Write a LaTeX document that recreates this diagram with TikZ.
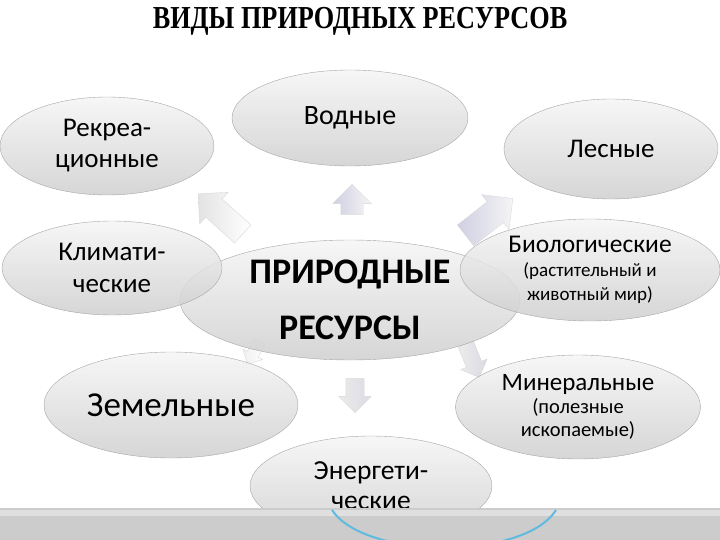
\documentclass[tikz,border=0pt]{standalone}
\usepackage{fontspec}
\setmainfont{Carlito}
\newfontfamily\titlefont{Liberation Serif}
\usetikzlibrary{positioning,shapes.geometric,shapes.arrows}

\begin{document}
\begin{tikzpicture}[x=1pt,y=-1pt,
                    res/.style={ellipse,draw=gray!70,top color=gray!8,bottom color=gray!38,
                      fill opacity=0.85,text opacity=1,align=center,inner sep=0pt},
                    blockarr/.style={single arrow,draw=gray!30,left color=blue!25!gray!30,
                      right color=gray!8,inner xsep=0pt}]
  \useasboundingbox (0,0) rectangle (720,540);

  \node[xscale=0.82,font=\titlefont\bfseries\fontsize{32}{34}\selectfont] (title) at (360,21)
       {ВИДЫ ПРИРОДНЫХ РЕСУРСОВ};

  % arrows from the centre
  \node[blockarr,rotate=90,minimum height=30pt,inner ysep=11pt,single arrow head extend=8pt]
       (aw) at (352,205) {};
  \node[blockarr,rotate=138,minimum height=60pt,inner ysep=12pt,single arrow head extend=9pt,
        left color=gray!22,right color=white]
       (ar) at (225,218) {};
  \node[blockarr,rotate=38,minimum height=60pt,inner ysep=13pt,single arrow head extend=9pt]
       (af) at (484,221) {};
  \node[blockarr,rotate=-68,minimum height=36pt,inner ysep=8pt,single arrow head extend=6pt,
        left color=gray!15,right color=blue!15!gray!25]
       (am) at (471,357) {};
  \node[blockarr,rotate=-90,minimum height=34pt,inner ysep=9pt,single arrow head extend=7pt,
        left color=gray!15,right color=blue!15!gray!25]
       (ae) at (355,391) {};
  \node[blockarr,rotate=-118,minimum height=26pt,inner ysep=6pt,single arrow head extend=5pt,
        left color=gray!12,right color=white]
       (az) at (255,350) {};

  \node[res,minimum width=340pt,minimum height=120pt,font=\bfseries\fontsize{36}{56}\selectfont]
       (main) at (350,300) {ПРИРОДНЫЕ\\РЕСУРСЫ};

  \node[res,minimum width=214pt,minimum height=98pt,font=\fontsize{27}{31}\selectfont]
       (rec)  at (107,146) {Рекреа-\\ционные};
  \node[res,minimum width=236pt,minimum height=96pt,font=\fontsize{28}{30}\selectfont]
       (wat)  at (350,118) {Водные};
  \node[res,minimum width=214pt,minimum height=100pt,font=\fontsize{27}{30}\selectfont]
       (for)  at (611,149) {Лесные};
  \node[res,minimum width=220pt,minimum height=94pt,font=\fontsize{27}{32}\selectfont]
       (cli)  at (112,268) {Климати-\\ческие};
  \node[res,minimum width=260pt,minimum height=102pt,font=\fontsize{19}{24}\selectfont]
       (bio)  at (590,270)
       {{\fontsize{25.5}{28}\selectfont Биологические}\\(растительный и\\животный мир)};
  \node[res,minimum width=254pt,minimum height=106pt,font=\fontsize{35}{38}\selectfont]
       (land) at (171,405) {Земельные};
  \node[res,minimum width=245pt,minimum height=104pt,font=\fontsize{20.5}{23}\selectfont]
       (min)  at (578,407)
       {{\fontsize{25}{28}\selectfont Минеральные}\\(полезные\\ископаемые)};
  \node[res,minimum width=242pt,minimum height=100pt,font=\fontsize{27.5}{30}\selectfont]
       (ene)  at (371,486) {Энергети-\\ческие};

  % bottom band
  \fill[gray!40] (0,508) rectangle (720,540);
  \fill[gray!25] (0,510) rectangle (720,516);
  \draw[cyan!70!teal!70,line width=2pt] (332,510) .. controls (365,560) and (525,560) .. (556,510);
\end{tikzpicture}
\end{document}
